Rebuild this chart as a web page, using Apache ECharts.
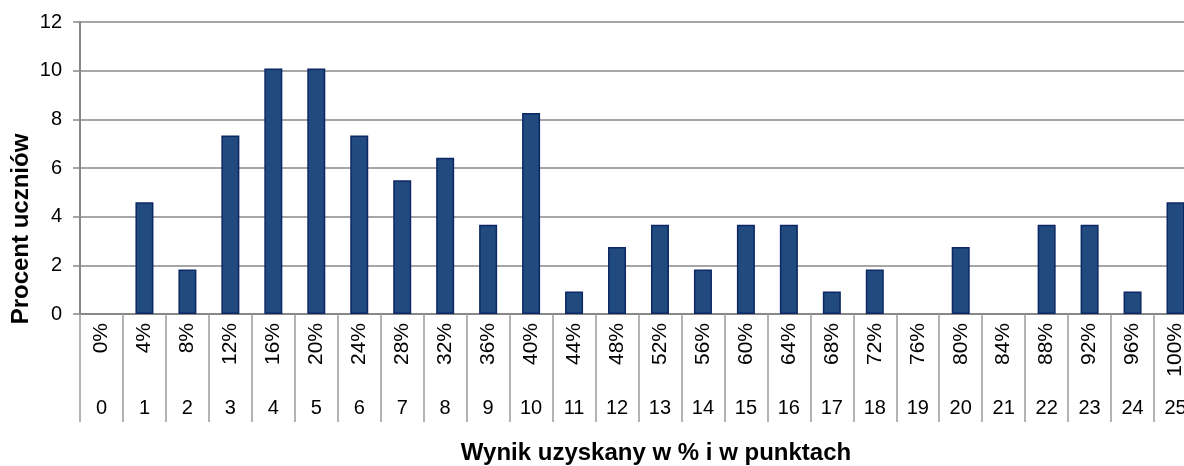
<!DOCTYPE html>
<html lang="pl">
<head>
<meta charset="utf-8">
<title>Wynik uzyskany w % i w punktach</title>
<script src="https://cdn.jsdelivr.net/npm/echarts@6/dist/echarts.min.js"></script>
<style>
  html, body { margin: 0; padding: 0; background: #ffffff; overflow: hidden; width: 1184px; height: 466px; }
  /* the drawing is a little wider than the page, so its last column is cut at the edge */
  #chart { width: 1200px; height: 466px; }
</style>
</head>
<body>
<div id="chart"></div>
<script>
// Score in points (0–25) and the matching percentage of the maximum
const points = ['0','1','2','3','4','5','6','7','8','9','10','11','12','13','14','15','16','17','18','19','20','21','22','23','24','25'];
const percentLabels = ['0%','4%','8%','12%','16%','20%','24%','28%','32%','36%','40%','44%','48%','52%','56%','60%','64%','68%','72%','76%','80%','84%','88%','92%','96%','100%'];
// Share of students (%) who obtained each score
const studentShare = [0, 4.59, 1.83, 7.34, 10.09, 10.09, 7.34, 5.50, 6.42, 3.67, 8.26, 0.92, 2.75, 3.67, 1.83, 3.67, 3.67, 0.92, 1.83, 0, 2.75, 0, 3.67, 3.67, 0.92, 4.59];
// Value axis ticks
const yMin = 0, yMax = 12, yStep = 2;

const FONT = 'Liberation Sans, Arial, sans-serif';
const GREY = '#888888';

const chart = echarts.init(document.getElementById('chart'), null, { renderer: 'canvas' });

// Empty scores get no outline, so nothing is drawn for them
const barData = studentShare.map(v => v === 0
  ? { value: v, itemStyle: { borderWidth: 0, opacity: 0 } }
  : v);

chart.setOption({
  animation: false,
  backgroundColor: '#ffffff',
  grid: { left: 80, right: 3, top: 22, bottom: 152, containLabel: false },
  xAxis: [
    {
      type: 'category',
      data: percentLabels,
      position: 'bottom',
      boundaryGap: true,
      axisLine: { show: true, lineStyle: { color: GREY, width: 2 } },
      axisTick: { show: true, interval: 0, length: 108, lineStyle: { color: '#9a9a9a', width: 1.5 } },
      axisLabel: { interval: 0, rotate: 90, margin: 9, color: '#000', fontFamily: FONT, fontSize: 21 },
      splitLine: { show: false }
    },
    {
      type: 'category',
      data: points,
      position: 'bottom',
      boundaryGap: true,
      axisLine: { show: false },
      axisTick: { show: false },
      axisLabel: { interval: 0, margin: 84, color: '#000', fontFamily: FONT, fontSize: 20 },
      splitLine: { show: false }
    }
  ],
  yAxis: {
    type: 'value',
    min: yMin,
    max: yMax,
    interval: yStep,
    axisLine: { show: true, lineStyle: { color: GREY, width: 2 } },
    axisTick: { show: true, length: 7, lineStyle: { color: GREY, width: 1.5 } },
    axisLabel: { margin: 18, color: '#000', fontFamily: FONT, fontSize: 20 },
    splitLine: { show: true, lineStyle: { color: GREY, width: 1.5 } }
  },
  series: [{
    type: 'bar',
    xAxisIndex: 0,
    data: barData,
    barWidth: 18,
    itemStyle: { color: '#214a7e', borderColor: '#0c2765', borderWidth: 1.5 }
  }],
  graphic: [
    {
      type: 'text',
      x: 21, y: 229,
      rotation: Math.PI / 2,
      style: {
        text: 'Procent uczniów',
        font: 'bold 24px ' + FONT,
        fill: '#000',
        textAlign: 'center',
        textVerticalAlign: 'middle'
      }
    },
    {
      type: 'text',
      x: 656, y: 453,
      style: {
        text: 'Wynik uzyskany w % i w punktach',
        font: 'bold 24px ' + FONT,
        fill: '#000',
        textAlign: 'center',
        textVerticalAlign: 'middle'
      }
    }
  ]
});
</script>
</body>
</html>
